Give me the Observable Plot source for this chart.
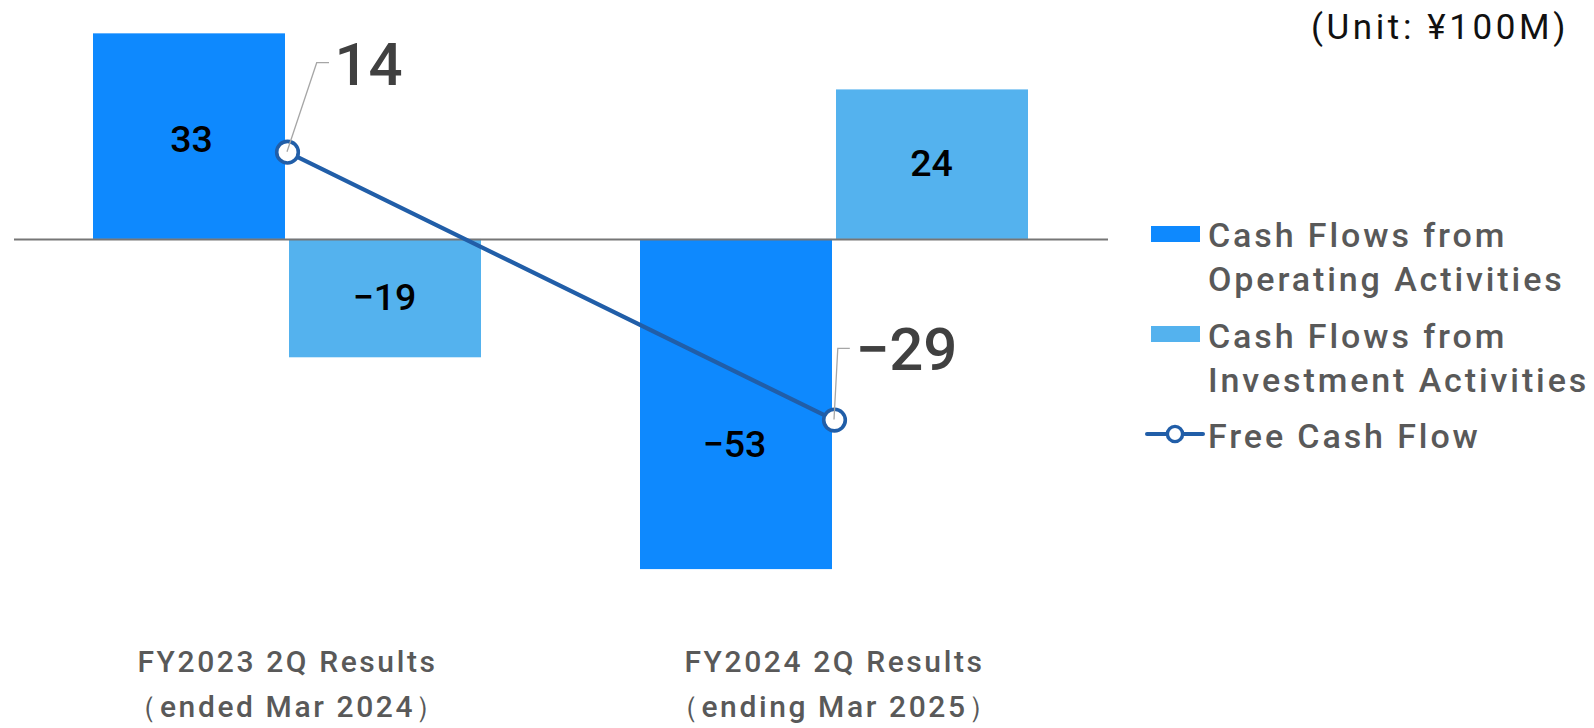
<!DOCTYPE html>
<html><head><meta charset="utf-8">
<script src="https://cdn.jsdelivr.net/npm/d3@7"></script>
<script src="https://cdn.jsdelivr.net/npm/@observablehq/plot@0.6"></script>
<style>
html,body{margin:0;padding:0;background:#fff;}
#wrap{position:relative;width:1594px;height:728px;overflow:hidden;font-family:Roboto,"DejaVu Sans",sans-serif;font-weight:500;}
#chart{position:absolute;left:0;top:0;}
#unit{position:absolute;right:25px;top:6px;font-size:35px;line-height:44px;letter-spacing:3.6px;color:#111;white-space:nowrap;font-weight:400;}
.leg-text{position:absolute;left:1208px;font-size:34px;line-height:44px;letter-spacing:2.9px;color:#595959;white-space:pre;}
.leg-swatch{position:absolute;left:1151px;width:49px;height:16px;}
.leg-key{position:absolute;left:1145px;}
</style></head>
<body>
<div id="wrap"><div id="chart"></div><div id="unit"></div><div id="legend"></div></div>
<script>
// ---- data ----
const groups = ["FY2023 2Q Results\n（ended Mar 2024）", "FY2024 2Q Results\n（ending Mar 2025）"];
const seriesNames = ["Cash Flows from\nOperating Activities", "Cash Flows from\nInvestment Activities", "Free Cash Flow"];
const operating = [33, -53];
const investment = [-19, 24];
const freeCashFlow = [14, -29];
const unitLabel = "(Unit: ¥100M)";

// ---- styles ----
const COLORS = {op: "#0e89fe", inv: "#54b2ee", fcf: "#215ea8", base: "#767676", leader: "#a6a6a6"};
const fmt = v => v < 0 ? "\u2212" + Math.abs(v) : String(v);

const chart = Plot.plot({
  width: 1594, height: 728,
  marginLeft: 14, marginRight: 486, marginTop: 2.2, marginBottom: 115.3,
  style: {fontFamily: "Roboto, 'DejaVu Sans', sans-serif", fontWeight: 500, background: "transparent", overflow: "visible"},
  x: {type: "band", domain: groups, paddingInner: 0.29, paddingOuter: 0.144},
  y: {domain: [-60, 38], axis: null},
  marks: [
    Plot.barY(operating, {x: groups, y: d => d, fill: COLORS.op, insetRight: 196}),
    Plot.barY(investment, {x: groups, y: d => d, fill: COLORS.inv, insetLeft: 196}),
    Plot.ruleY([0], {stroke: COLORS.base, strokeWidth: 2}),
    Plot.text(operating, {filter: (d, i) => i === 0, x: groups, y: d => d / 2, text: fmt, dx: -96, dy: 3, fontSize: 37.5, fill: "#000"}),
    Plot.text(operating, {filter: (d, i) => i === 1, x: groups, y: d => d / 2, text: fmt, dx: -100, dy: 40, fontSize: 37.5, fill: "#000"}),
    Plot.text(investment, {x: groups, y: d => d / 2, text: fmt, dx: 97, dy: -1, fontSize: 37.5, fill: "#000"}),
    Plot.axisX({tickSize: 0, tickPadding: 28, fontSize: 30, lineHeight: 1.47, color: "#595959", label: null}),
    Plot.line(freeCashFlow, {x: groups, y: d => d, stroke: COLORS.fcf, strokeWidth: 4.2}),
    Plot.dot(freeCashFlow, {x: groups, y: d => d, r: 10.8, fill: "white", stroke: COLORS.fcf, strokeWidth: 3.6}),
    Plot.text(freeCashFlow, {filter: (d, i) => i === 0, x: groups, y: d => d, text: fmt, textAnchor: "start", dx: 47, dy: -86, fontSize: 60, fill: "#404040"}),
    Plot.text(freeCashFlow, {filter: (d, i) => i === 1, x: groups, y: d => d, text: fmt, textAnchor: "start", dx: 21, dy: -69, fontSize: 60, fill: "#404040"})
  ]
});
document.getElementById("chart").appendChild(chart);
chart.querySelectorAll('[aria-label="x-axis tick label"] text').forEach(t => t.style.letterSpacing = "2.6px");

// leader lines from FCF points to their labels
const leaderShape = [[[29.7, -89], [42, -89]], [[3.8, -71.3], [15.8, -71.3]]];
const sx = chart.scale("x"), sy = chart.scale("y");
const svg = d3.select(chart);
freeCashFlow.forEach((v, i) => {
  const x0 = sx.apply(groups[i]) + sx.bandwidth / 2, y0 = sy.apply(v);
  const [[ax, ay], [bx, by]] = leaderShape[i];
  svg.append("path")
    .attr("d", `M${x0},${y0}L${x0 + ax},${y0 + ay}L${x0 + bx},${y0 + by}`)
    .attr("fill", "none").attr("stroke", COLORS.leader).attr("stroke-width", 1.3);
});

// unit label
document.getElementById("unit").textContent = unitLabel;

// legend
const legend = document.getElementById("legend");
const rowTops = [213.4, 314.4, 414.4];
const swatchTops = [226, 326];
[COLORS.op, COLORS.inv].forEach((c, i) => {
  const s = document.createElement("div");
  s.className = "leg-swatch"; s.style.top = swatchTops[i] + "px"; s.style.background = c;
  legend.appendChild(s);
});
const key = d3.create("svg").attr("class", "leg-key").attr("width", 62).attr("height", 24).style("top", "422px");
key.append("line").attr("x1", 2).attr("x2", 58).attr("y1", 12).attr("y2", 12).attr("stroke", COLORS.fcf).attr("stroke-width", 4).attr("stroke-linecap", "round");
key.append("circle").attr("cx", 30).attr("cy", 12).attr("r", 7.6).attr("fill", "white").attr("stroke", COLORS.fcf).attr("stroke-width", 3.4);
legend.appendChild(key.node());
seriesNames.forEach((n, i) => {
  const t = document.createElement("div");
  t.className = "leg-text"; t.style.top = rowTops[i] + "px"; t.textContent = n;
  legend.appendChild(t);
});
</script>
</body></html>
